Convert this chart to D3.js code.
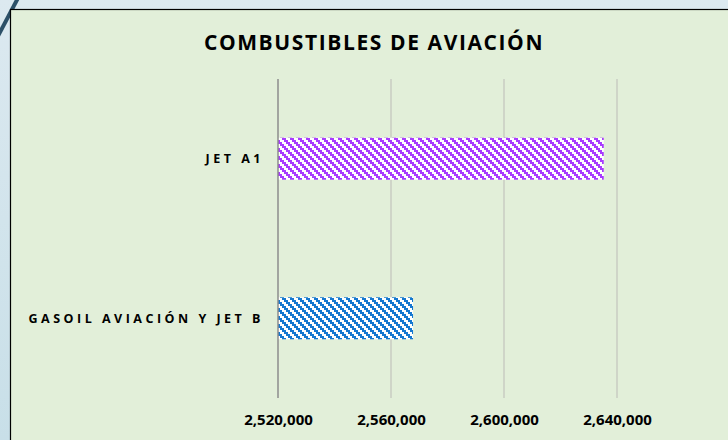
<!DOCTYPE html>
<html>
<head>
<meta charset="utf-8">
<script src="https://cdn.jsdelivr.net/npm/d3@7"></script>
<style>
  body { margin: 0; }
  svg { display: block; }
</style>
</head>
<body>
<div id="chart"></div>
<script>
// data
var categories = ["JET A1", "GASOIL AVIACIÓN Y JET B"];
var values = [2635300, 2567800];
var barColors = ["#a83bff", "#1477d0"];
var tickValues = [2520000, 2560000, 2600000, 2640000];
var title = "COMBUSTIBLES DE AVIACIÓN";

var W = 728, H = 440;

var svg = d3.select("#chart").append("svg")
    .attr("width", W)
    .attr("height", H);

var defs = svg.append("defs");

// outer background gradient (light blue)
var bg = defs.append("linearGradient").attr("id", "outerBg")
    .attr("x1", 0).attr("y1", 0).attr("x2", 0).attr("y2", 1);
bg.append("stop").attr("offset", "0%").attr("stop-color", "#dce9f0");
bg.append("stop").attr("offset", "100%").attr("stop-color", "#c8dfe8");

svg.append("rect")
    .attr("width", W).attr("height", H)
    .attr("fill", "url(#outerBg)");

// diagonal stroke at top-left corner
svg.append("line")
    .attr("x1", -2).attr("y1", 36)
    .attr("x2", 18).attr("y2", -2)
    .attr("stroke", "#2c5068")
    .attr("stroke-width", 4);

// chart frame
svg.append("rect")
    .attr("x", 10.5).attr("y", 9.5)
    .attr("width", W + 20).attr("height", H + 20)
    .attr("fill", "#e2efd9")
    .attr("stroke", "#000")
    .attr("stroke-width", 1.2);

// checkered diagonal patterns for bars
barColors.forEach(function(c, i) {
    var p = defs.append("pattern")
        .attr("id", "pat" + i)
        .attr("patternUnits", "userSpaceOnUse")
        .attr("width", 8).attr("height", 8);
    p.append("rect").attr("width", 8).attr("height", 8).attr("fill", "#fff");
    for (var bx = 0; bx < 4; bx++) {
        for (var by = 0; by < 4; by++) {
            var k = ((bx - by) % 4 + 4) % 4;
            if (k < 2) {
                p.append("rect")
                    .attr("x", bx * 2).attr("y", by * 2)
                    .attr("width", 2).attr("height", 2)
                    .attr("fill", c);
            }
        }
    }
});

var margin = {top: 79, left: 278, bottom: 398, right: 617};

var x = d3.scaleLinear()
    .domain([2520000, 2640000])
    .range([margin.left, margin.right]);

var y = d3.scaleBand()
    .domain(categories)
    .range([margin.top, margin.bottom])
    .paddingInner(0.737)
    .paddingOuter(0.368);

// gridlines
svg.append("g")
    .selectAll("line")
    .data(tickValues.slice(1))
    .enter().append("line")
    .attr("x1", function(d) { return x(d); })
    .attr("x2", function(d) { return x(d); })
    .attr("y1", margin.top)
    .attr("y2", margin.bottom)
    .attr("stroke", "#c9cdc2")
    .attr("stroke-width", 1.5);

// bars
svg.append("g")
    .selectAll("rect")
    .data(values)
    .enter().append("rect")
    .attr("x", x(2520000))
    .attr("y", function(d, i) { return y(categories[i]); })
    .attr("width", function(d) { return x(d) - x(2520000); })
    .attr("height", y.bandwidth())
    .attr("fill", function(d, i) { return "url(#pat" + i + ")"; });

// vertical axis line
svg.append("line")
    .attr("x1", x(2520000)).attr("x2", x(2520000))
    .attr("y1", margin.top).attr("y2", margin.bottom)
    .attr("stroke", "#8c8c8c")
    .attr("stroke-width", 1.5);

// bottom axis labels
var xAxis = svg.append("g")
    .attr("transform", "translate(0," + margin.bottom + ")")
    .call(d3.axisBottom(x)
        .tickValues(tickValues)
        .tickSize(0)
        .tickPadding(16)
        .tickFormat(d3.format(",")));
xAxis.select(".domain").remove();
xAxis.selectAll("text")
    .attr("fill", "#000")
    .style("font-family", "'Open Sans', sans-serif")
    .style("font-weight", "bold")
    .style("font-size", "15px");

// category labels
svg.append("g")
    .selectAll("text")
    .data(categories)
    .enter().append("text")
    .attr("x", margin.left - 14)
    .attr("y", function(d) { return y(d) + y.bandwidth() / 2; })
    .attr("dy", "0.35em")
    .attr("text-anchor", "end")
    .style("font-family", "'Open Sans', sans-serif")
    .style("font-weight", "bold")
    .style("font-size", "12.5px")
    .style("letter-spacing", "3.5px")
    .text(function(d) { return d; });

// title
svg.append("text")
    .attr("x", 374)
    .attr("y", 50)
    .attr("text-anchor", "middle")
    .style("font-family", "'Open Sans', sans-serif")
    .style("font-weight", "bold")
    .style("font-size", "21px")
    .style("letter-spacing", "1.6px")
    .text(title);
</script>
</body>
</html>
